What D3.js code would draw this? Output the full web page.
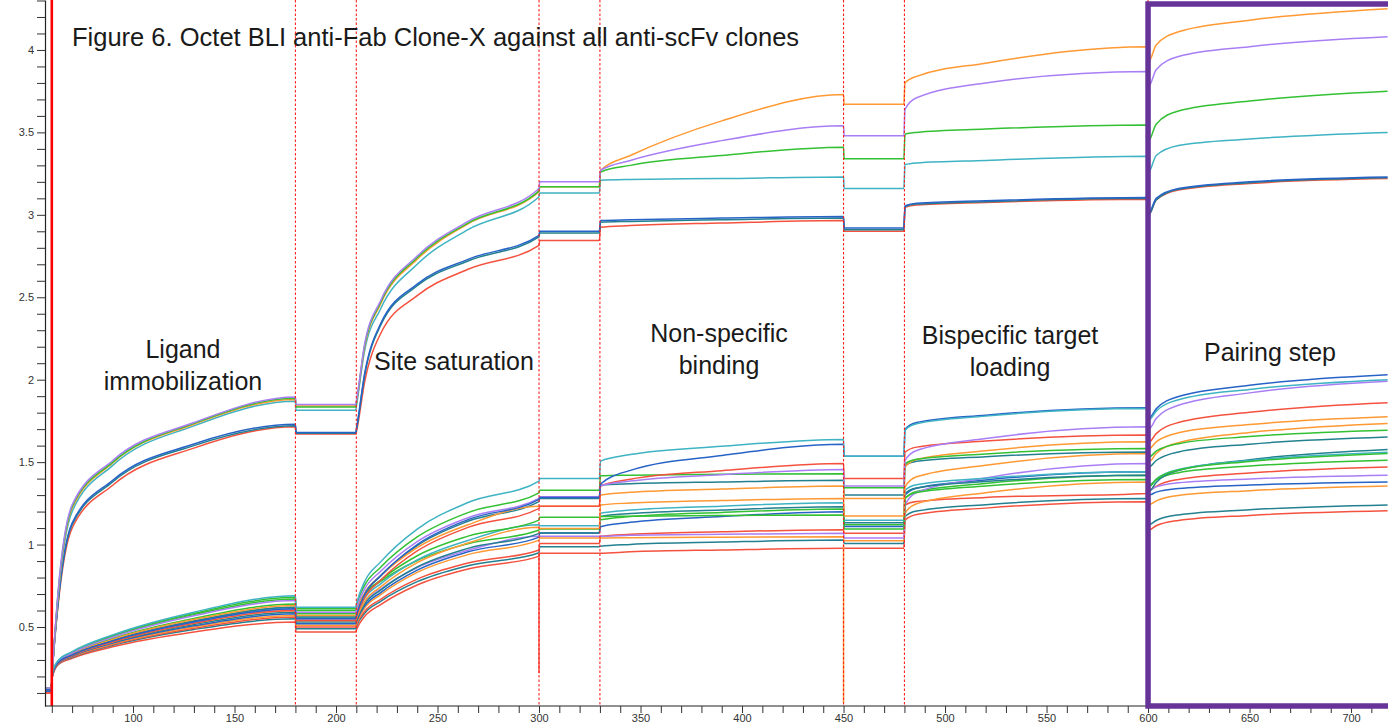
<!DOCTYPE html>
<html><head><meta charset="utf-8">
<script src="https://cdn.jsdelivr.net/npm/d3@7"></script>
<style>body{margin:0;background:#fff;} svg{display:block;}</style>
</head><body>
<svg id="c" width="1388" height="727"></svg>
<script>
// ---------- DATA ----------
const palette = {red:"#f4523f", orange:"#ff9933", green:"#33c033", teal:"#3fb3c3", blue:"#2763c6", tealdark:"#23808f", purple:"#a97ef5"};
const traceColors = ["purple","green","orange","teal","blue","tealdark","red",
  "teal","blue","purple","red","green","orange","tealdark","orange","green","teal","tealdark","purple","blue","orange","red","tealdark","red","green"];

// knot times per step (seconds)
const tPre   = [57, 59.7];
const tImmob = [60.3, 63, 70, 90, 130, 180];
const tBase1 = [180.3, 209.7];
const tSat   = [210.3, 214, 222, 240, 265, 300];
const tBase2 = [300.3, 329.7];
const tNsb   = [330.3, 345, 390, 450];
const tBase3 = [450.3, 479.7];
const tLoad  = [480.3, 486, 520, 600];
const tPair  = [600.3, 604, 615, 650, 718];

const preLevel = [0.13,0.13,0.13,0.13,0.12,0.12,0.12, 0.12,0.11,0.12,0.11,0.12,0.12,0.11,0.11,0.12,0.11,0.11,0.12,0.11,0.11,0.10,0.11,0.10,0.12];

const immobValues = [
 [0.24,0.70,1.24,1.51,1.74,1.895],
 [0.24,0.69,1.23,1.50,1.735,1.888],
 [0.24,0.68,1.22,1.495,1.73,1.88],
 [0.24,0.67,1.20,1.48,1.72,1.87],
 [0.24,0.64,1.13,1.39,1.61,1.73],
 [0.24,0.635,1.12,1.38,1.60,1.72],
 [0.24,0.62,1.10,1.36,1.585,1.715],
 [0.22,0.294,0.35,0.452,0.59,0.69],
 [0.21,0.282,0.33,0.416,0.53,0.61],
 [0.22,0.29,0.342,0.438,0.568,0.66],
 [0.21,0.28,0.327,0.41,0.522,0.60],
 [0.22,0.292,0.347,0.447,0.582,0.68],
 [0.21,0.285,0.335,0.425,0.545,0.63],
 [0.21,0.283,0.332,0.42,0.537,0.62],
 [0.21,0.28,0.327,0.41,0.522,0.60],
 [0.22,0.286,0.337,0.43,0.552,0.64],
 [0.21,0.283,0.332,0.42,0.537,0.62],
 [0.21,0.279,0.325,0.407,0.515,0.59],
 [0.21,0.282,0.33,0.416,0.53,0.61],
 [0.21,0.277,0.322,0.402,0.507,0.58],
 [0.21,0.276,0.32,0.398,0.50,0.57],
 [0.20,0.274,0.317,0.393,0.492,0.56],
 [0.20,0.273,0.315,0.389,0.485,0.55],
 [0.20,0.27,0.31,0.38,0.47,0.53],
 [0.22,0.291,0.345,0.443,0.575,0.67]
];

const base1Level = [1.85,1.835,1.84,1.815,1.68,1.675,1.67, 0.62,0.55,0.59,0.54,0.61,0.57,0.56,0.54,0.58,0.56,0.53,0.55,0.52,0.51,0.50,0.49,0.47,0.60];

const satValues = [
 [1.89,2.21,2.48,2.75,2.96,3.16],
 [1.88,2.20,2.47,2.74,2.95,3.145],
 [1.88,2.19,2.46,2.73,2.945,3.14],
 [1.86,2.17,2.43,2.70,2.91,3.11],
 [1.72,2.03,2.34,2.58,2.73,2.876],
 [1.715,2.02,2.33,2.57,2.72,2.866],
 [1.70,1.98,2.28,2.51,2.67,2.815],
 [0.65,0.773,0.895,1.094,1.255,1.385],
 [0.58,0.695,0.81,1.0,1.151,1.274],
 [0.62,0.728,0.838,1.018,1.163,1.28],
 [0.57,0.676,0.784,0.961,1.104,1.219],
 [0.64,0.751,0.863,1.046,1.194,1.314],
 [0.60,0.703,0.809,0.981,1.12,1.233],
 [0.59,0.70,0.812,0.994,1.141,1.26],
 [0.56,0.653,0.743,0.89,1.009,1.105],
 [0.60,0.694,0.784,0.932,1.051,1.148],
 [0.58,0.672,0.762,0.907,1.025,1.12],
 [0.55,0.638,0.724,0.864,0.977,1.068],
 [0.57,0.65,0.73,0.86,0.965,1.05],
 [0.54,0.625,0.709,0.845,0.956,1.045],
 [0.53,0.613,0.696,0.831,0.939,1.027],
 [0.52,0.593,0.668,0.79,0.888,0.967],
 [0.51,0.582,0.656,0.775,0.872,0.95],
 [0.49,0.562,0.636,0.755,0.852,0.93],
 [0.62,0.698,0.776,0.903,1.005,1.088]
];

const base2Level = [3.20,3.17,3.17,3.133,2.90,2.89,2.845, 1.40,1.286,1.29,1.233,1.33,1.233,1.28,1.098,1.165,1.114,1.07,1.05,1.07,1.04,1.007,0.987,0.947,1.094];

const nsbValues = [
 [3.27,3.33,3.45,3.54],
 [3.26,3.30,3.36,3.41],
 [3.27,3.36,3.57,3.73],
 [3.21,3.215,3.22,3.23],
 [2.965,2.97,2.98,2.99],
 [2.955,2.96,2.97,2.98],
 [2.925,2.935,2.95,2.965],
 [1.506,1.546,1.596,1.638],
 [1.367,1.45,1.54,1.609],
 [1.355,1.385,1.424,1.456],
 [1.355,1.396,1.448,1.492],
 [1.417,1.421,1.426,1.43],
 [1.30,1.317,1.337,1.355],
 [1.36,1.369,1.38,1.39],
 [1.24,1.252,1.267,1.28],
 [1.17,1.172,1.176,1.179],
 [1.19,1.209,1.233,1.254],
 [1.17,1.188,1.21,1.229],
 [1.05,1.056,1.062,1.068],
 [1.108,1.135,1.17,1.199],
 [1.04,1.042,1.045,1.047],
 [1.05,1.062,1.077,1.09],
 [0.99,1.001,1.015,1.027],
 [0.947,0.956,0.967,0.977],
 [1.15,1.17,1.195,1.215]
];

const base3Level = [3.48,3.34,3.67,3.16,2.92,2.91,2.90, 1.536,1.536,1.355,1.40,1.344,1.28,1.30,1.173,1.094,1.148,1.132,1.04,1.11,1.023,1.068,1.007,0.977,1.12];

const loadValues = [
 [3.64,3.71,3.80,3.87],
 [3.49,3.50,3.52,3.545],
 [3.80,3.84,3.92,4.02],
 [3.305,3.315,3.33,3.355],
 [3.055,3.07,3.085,3.105],
 [3.05,3.065,3.08,3.10],
 [3.045,3.06,3.075,3.095],
 [1.694,1.733,1.779,1.825],
 [1.70,1.74,1.785,1.83],
 [1.51,1.571,1.643,1.714],
 [1.56,1.591,1.628,1.664],
 [1.49,1.518,1.55,1.583],
 [1.47,1.516,1.569,1.623],
 [1.48,1.505,1.533,1.562],
 [1.35,1.411,1.481,1.552],
 [1.28,1.315,1.355,1.395],
 [1.33,1.363,1.402,1.441],
 [1.31,1.343,1.382,1.42],
 [1.24,1.316,1.404,1.492],
 [1.30,1.342,1.392,1.441],
 [1.19,1.247,1.314,1.38],
 [1.24,1.261,1.286,1.31],
 [1.17,1.203,1.242,1.28],
 [1.148,1.182,1.221,1.26],
 [1.28,1.322,1.371,1.42]
];

const pairValues = [
 [3.78,3.88,3.96,4.02,4.08],
 [3.45,3.55,3.63,3.69,3.75],
 [3.93,4.03,4.11,4.18,4.25],
 [3.26,3.36,3.42,3.46,3.50],
 [3.01,3.10,3.16,3.20,3.23],
 [3.00,3.09,3.155,3.195,3.225],
 [3.00,3.09,3.15,3.19,3.22],
 [1.755,1.809,1.878,1.941,2.0],
 [1.765,1.823,1.898,1.966,2.03],
 [1.70,1.764,1.845,1.92,1.99],
 [1.62,1.673,1.74,1.802,1.86],
 [1.53,1.566,1.612,1.655,1.694],
 [1.58,1.623,1.678,1.728,1.775],
 [1.47,1.51,1.562,1.609,1.653],
 [1.50,1.552,1.618,1.679,1.735],
 [1.35,1.395,1.452,1.504,1.553],
 [1.35,1.396,1.455,1.51,1.56],
 [1.32,1.377,1.449,1.515,1.577],
 [1.33,1.35,1.375,1.398,1.42],
 [1.30,1.318,1.34,1.361,1.38],
 [1.24,1.265,1.298,1.327,1.355],
 [1.32,1.353,1.395,1.434,1.47],
 [1.12,1.146,1.18,1.211,1.24],
 [1.088,1.114,1.146,1.177,1.205],
 [1.36,1.393,1.436,1.476,1.512]
];

// step boundaries (dotted markers) and the start marker
const stepBoundaries = [180, 210, 300, 330, 450, 480, 600];
const startMarker = 60;
// short spikes seen at step changes
const spikeTimes = [300, 450];
const spikeFrom  = [0.95, 1.00];
const spikeTo    = [0.22, 0.04];
const spikeColors = ["red", "orange"];

const yMajorTicks = [0.5, 1, 1.5, 2, 2.5, 3, 3.5, 4];
const yTickLabels = ["0.5", "1", "1.5", "2", "2.5", "3", "3.5", "4"];
const xMajorTicks = [100, 150, 200, 250, 300, 350, 400, 450, 500, 550, 600, 650, 700];
const xTickLabels = ["100","150","200","250","300","350","400","450","500","550","600","650","700"];

const titleText = "Figure 6. Octet BLI anti-Fab Clone-X against all anti-scFv clones";
const sectionLabels = [["Ligand","immobilization"], ["Site saturation"], ["Non-specific","binding"], ["Bispecific target","loading"], ["Pairing step"]];

// ---------- CHART ----------
const svg = d3.select("#c");
const W = 1388, H = 727;
const left = 45, bottom = 706;
const x = d3.scaleLinear().domain([56.65, 718.2]).range([left, W]);
const y = d3.scaleLinear().domain([0.0208, 4.303]).range([bottom, 0]);

svg.append("defs").append("clipPath").attr("id","plot")
  .append("rect").attr("x", left).attr("y", 0).attr("width", W-left).attr("height", bottom);

const traces = traceColors.map((c, i) => {
  const pts = [];
  tPre.forEach(t => pts.push([t, preLevel[i]]));
  tImmob.forEach((t, k) => pts.push([t, immobValues[i][k]]));
  tBase1.forEach(t => pts.push([t, base1Level[i]]));
  tSat.forEach((t, k) => pts.push([t, satValues[i][k]]));
  tBase2.forEach(t => pts.push([t, base2Level[i]]));
  tNsb.forEach((t, k) => pts.push([t, nsbValues[i][k]]));
  tBase3.forEach(t => pts.push([t, base3Level[i]]));
  tLoad.forEach((t, k) => pts.push([t, loadValues[i][k]]));
  tPair.forEach((t, k) => pts.push([t, pairValues[i][k]]));
  return {color: palette[c], pts};
});

const line = d3.line().x(d => x(d[0])).y(d => y(d[1])).curve(d3.curveMonotoneX);
const g = svg.append("g").attr("clip-path", "url(#plot)");

g.selectAll("path.trace").data(traces.slice().reverse()).join("path")
  .attr("class","trace")
  .attr("d", d => line(d.pts))
  .attr("fill","none")
  .attr("stroke", d => d.color)
  .attr("stroke-width", 1.5)
  .attr("stroke-linejoin","round");

// spikes
g.selectAll("line.spike").data(spikeTimes).join("line")
  .attr("x1", d => x(d)).attr("x2", d => x(d))
  .attr("y1", (d,i) => y(spikeFrom[i])).attr("y2", (d,i) => y(spikeTo[i]))
  .attr("stroke", (d,i) => palette[spikeColors[i]]).attr("stroke-width", 1.5);

// step boundary dotted lines
g.selectAll("line.step").data(stepBoundaries).join("line")
  .attr("x1", d => x(d)).attr("x2", d => x(d))
  .attr("y1", 0).attr("y2", bottom)
  .attr("stroke", "#ff2020").attr("stroke-width", 1.1)
  .attr("stroke-dasharray", "2.5,2");

// start marker solid line
g.append("line")
  .attr("x1", x(startMarker)).attr("x2", x(startMarker))
  .attr("y1", 0).attr("y2", bottom)
  .attr("stroke", "#ff0000").attr("stroke-width", 2.6);

// axes
const yMinor = d3.range(1, 44).map(i => i / 10);
const yAxis = d3.axisLeft(y).tickValues(yMinor).tickSize(8).tickSizeOuter(0).tickPadding(3)
  .tickFormat(d => { const k = yMajorTicks.findIndex(m => Math.abs(m - d) < 1e-6); return k >= 0 ? yTickLabels[k] : ""; });
const ya = svg.append("g").attr("transform", `translate(${left},0)`).call(yAxis);
const xMinor = d3.range(60, 711, 10);
const xAxis = d3.axisBottom(x).tickValues(xMinor).tickSize(7).tickSizeOuter(0).tickPadding(1)
  .tickFormat(d => { const k = xMajorTicks.indexOf(d); return k >= 0 ? xTickLabels[k] : ""; });
const xa = svg.append("g").attr("transform", `translate(0,${bottom})`).call(xAxis);
[ya, xa].forEach(a => {
  a.selectAll("path.domain").attr("stroke", "#222").attr("stroke-width", 1.2);
  a.selectAll(".tick line").attr("stroke", "#333").attr("stroke-width", 1);
  a.selectAll(".tick text").attr("fill", "#333").style("font-family", "'Liberation Sans', Arial, sans-serif").style("font-size", "11px");
});
xa.select("path.domain").attr("d", `M${left},0H${W}`);

// highlight box for pairing step
svg.append("rect")
  .attr("x", x(600)).attr("y", 4)
  .attr("width", W - x(600) + 20).attr("height", bottom - 4)
  .attr("fill", "none").attr("stroke", "#663399").attr("stroke-width", 5.5);

// title
const font = "'Liberation Sans', Arial, sans-serif";
svg.append("text").attr("x", 72).attr("y", 46).text(titleText)
  .style("font-family", font).style("font-size", "25.5px").attr("fill", "#1a1a1a");

// section labels
const labelPos = [
  {x: 183, y: 358},
  {x: 454, y: 370},
  {x: 719, y: 342},
  {x: 1010, y: 344},
  {x: 1270, y: 361}
];
sectionLabels.forEach((lines, i) => {
  const p = labelPos[i];
  const t = svg.append("text").attr("text-anchor", "middle")
    .style("font-family", font).style("font-size", "25px").attr("fill", "#1a1a1a");
  lines.forEach((s, j) => t.append("tspan").attr("x", p.x).attr("y", p.y + j * 31.5).text(s));
});
</script>
</body></html>
